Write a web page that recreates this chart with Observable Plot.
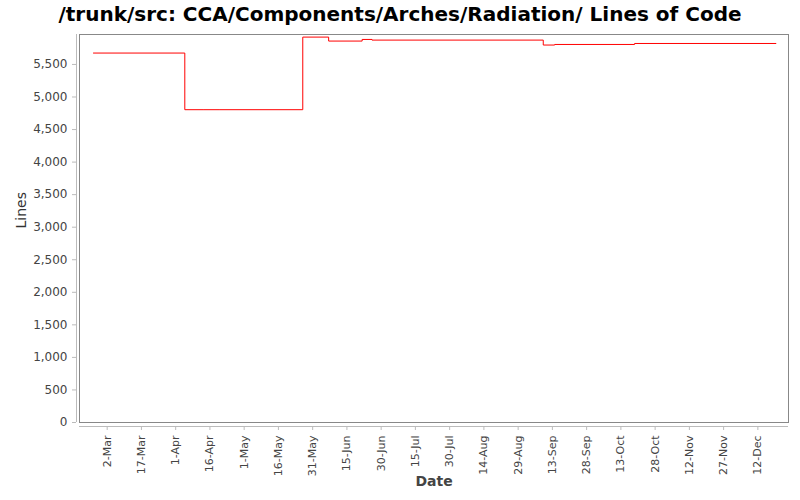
<!DOCTYPE html>
<html><head><meta charset="utf-8">
<script src="https://cdn.jsdelivr.net/npm/d3@7"></script>
<script src="https://cdn.jsdelivr.net/npm/@observablehq/plot@0.6"></script>
<style>
body{margin:0;background:#fff;font-family:"DejaVu Sans",sans-serif;}
#title{height:28px;line-height:28px;text-align:center;font-weight:bold;font-size:20px;color:#000;white-space:nowrap;}
</style></head><body>
<div id="title">/trunk/src: CCA/Components/Arches/Radiation/ Lines of Code</div>
<div id="chart"></div>
<script>
// Data
const dates = ["2007-02-24","2007-04-05","2007-04-13","2007-04-20","2007-05-26T16:00","2007-06-07","2007-06-21T16:00","2007-06-26","2007-09-09","2007-09-14","2007-10-19","2007-12-20"];
const lines = [5675, 4805, 4805, 4805, 5920, 5859, 5884, 5874, 5798, 5807, 5822, 5822];
const tickDates = ["2007-03-02","2007-03-17","2007-04-01","2007-04-16","2007-05-01","2007-05-16","2007-05-31","2007-06-15","2007-06-30","2007-07-15","2007-07-30","2007-08-14","2007-08-29","2007-09-13","2007-09-28","2007-10-13","2007-10-28","2007-11-12","2007-11-27","2007-12-12"];
const yTicks = [0,500,1000,1500,2000,2500,3000,3500,4000,4500,5000,5500];
const xDomain = ["2007-02-17T21:00Z","2007-12-25T10:00Z"];
const yDomain = [0, 5960];

const data = dates.map((d, i) => ({date: new Date(d + (d.includes("Z") ? "" : (d.includes("T") ? "Z" : "T00:00Z"))), value: lines[i]}));
const xd = xDomain.map(d => new Date(d));

const chart = Plot.plot({
  width: 800, height: 472,
  marginLeft: 79, marginRight: 12, marginTop: 6, marginBottom: 78,
  style: {fontFamily: "DejaVu Sans", fontSize: "11px", background: "white", color: "#444"},
  x: {type: "utc", domain: xd},
  y: {domain: yDomain},
  marks: [
    Plot.frame({stroke: "#888"}),
    Plot.ruleY([0], {dy: 4, stroke: "#bbb"}),
    Plot.ruleX([xd[0]], {dx: -3, stroke: "#bbb"}),
    Plot.axisX({ticks: tickDates.map(d => new Date(d + "T00:00Z")), tickFormat: d3.utcFormat("%-d-%b"), tickRotate: -90, tickSize: 4, dy: 4, stroke: "#bbb", fill: "#444", label: null}),
    Plot.axisY({ticks: yTicks, tickFormat: d3.format(","), tickSize: 4, dx: -3, stroke: "#bbb", fill: "#444", fontSize: 12, label: null}),
    Plot.line(data, {x: "date", y: "value", curve: "step-after", stroke: "red", strokeWidth: 1}),
    Plot.text(["Lines"], {frameAnchor: "left", rotate: -90, dx: -58, fontSize: 14, fill: "#333"}),
    Plot.text(["Date"], {frameAnchor: "bottom", dy: 63, fontSize: 14, fontWeight: "bold", fill: "#444"})
  ]
});
document.getElementById("chart").appendChild(chart);
</script>
</body></html>
